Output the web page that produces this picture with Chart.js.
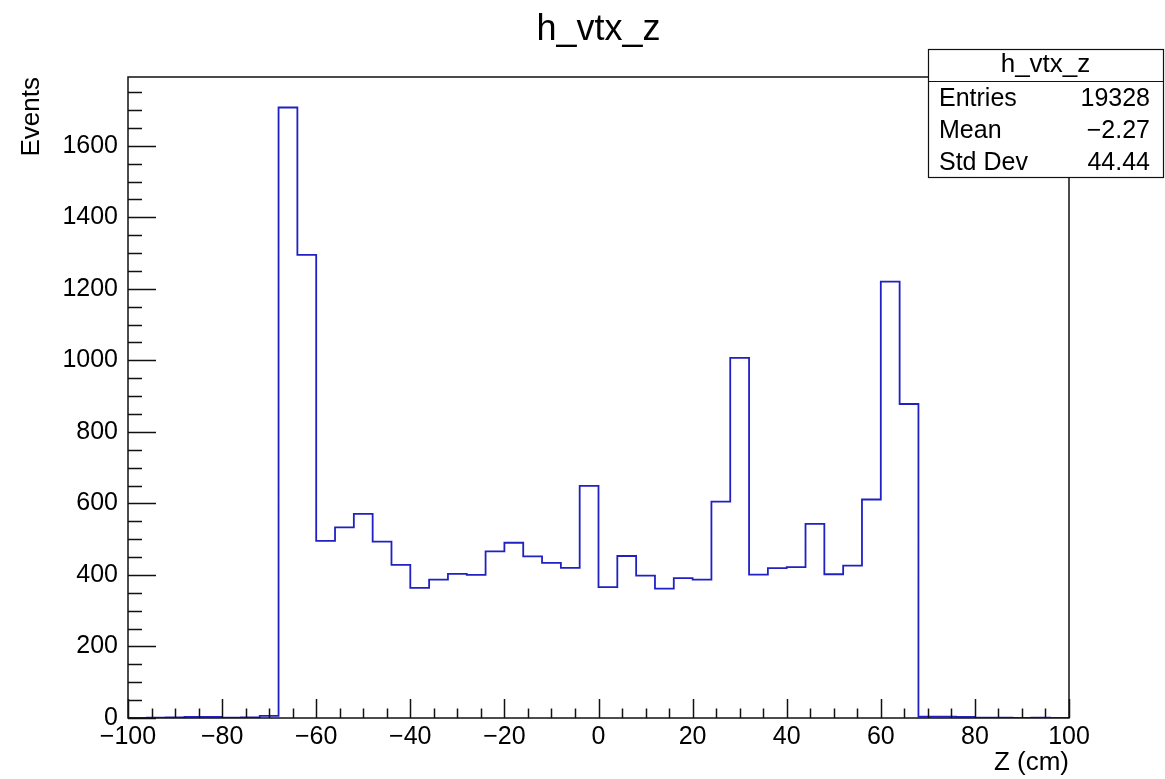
<!DOCTYPE html>
<html>
<head>
<meta charset="utf-8">
<title>h_vtx_z</title>
<script src="https://cdn.jsdelivr.net/npm/chart.js@4.4.1/dist/chart.umd.min.js"></script>
<style>
  html, body { margin: 0; padding: 0; background: #fff; }
  #wrap { width: 1165px; height: 779px; }
</style>
</head>
<body>
<div id="wrap"><canvas id="hist" width="1165" height="779"></canvas></div>
<script>
// histogram h_vtx_z : 50 bins from -100 to 100 cm
const binLowEdges = [
  -100, -96, -92, -88, -84, -80, -76, -72, -68, -64,
  -60, -56, -52, -48, -44, -40, -36, -32, -28, -24,
  -20, -16, -12, -8, -4, 0, 4, 8, 12, 16,
  20, 24, 28, 32, 36, 40, 44, 48, 52, 56,
  60, 64, 68, 72, 76, 80, 84, 88, 92, 96
];
const xUpEdge = 100;
const counts = [
  0, 1, 2, 3, 3, 1, 2, 6, 1707, 1295,
  495, 533, 571, 493, 428, 364, 387, 403, 400, 466,
  490, 452, 434, 420, 649, 366, 453, 398, 362, 391,
  387, 605, 1007, 401, 419, 422, 543, 402, 426, 611,
  1220, 878, 4, 4, 3, 1, 1, 0, 1, 0
];
const xTicks = [-100, -80, -60, -40, -20, 0, 20, 40, 60, 80, 100];
const yTicks = [0, 200, 400, 600, 800, 1000, 1200, 1400, 1600];
const statLabels = ['Entries', 'Mean', 'Std Dev'];
const statValues = ['19328', '\u22122.27', '44.44'];

const FONT = '"Liberation Sans", Arial, Helvetica, sans-serif';
const minus = v => String(v).replace('-', '\u2212');

// points at the low edges + closing point at the upper edge
const points = binLowEdges.map((x, i) => ({ x: x, y: counts[i] }));
points.push({ x: xUpEdge, y: counts[counts.length - 1] });

const yMax = Math.max(...counts) * 1.05;

// ROOT-like frame, inward ticks, title and stats box
const rootStyle = {
  id: 'rootStyle',
  afterDraw(chart) {
    const ctx = chart.ctx;
    const a = chart.chartArea;
    const xs = chart.scales.x, ys = chart.scales.y;
    ctx.save();
    ctx.strokeStyle = '#111';
    ctx.lineWidth = 1.5;

    // x ticks (every 5, major every 20)
    ctx.beginPath();
    for (let v = -100; v <= 100; v += 5) {
      const px = Math.round(xs.getPixelForValue(v)) + 0.5;
      const len = (v % 20 === 0) ? 19 : 9.5;
      ctx.moveTo(px, a.bottom);
      ctx.lineTo(px, a.bottom - len);
    }
    // y ticks (every 50, major every 200)
    for (let v = 0; v <= yMax; v += 50) {
      const py = Math.round(ys.getPixelForValue(v)) + 0.5;
      const len = (v % 200 === 0) ? 28 : 14;
      ctx.moveTo(a.left, py);
      ctx.lineTo(a.left + len, py);
    }
    ctx.stroke();

    // frame
    ctx.strokeRect(a.left, a.top, a.right - a.left, a.bottom - a.top);

    // main title
    ctx.fillStyle = '#000';
    ctx.font = '36px ' + FONT;
    ctx.textAlign = 'center';
    ctx.textBaseline = 'alphabetic';
    ctx.fillText('h_vtx_z', (a.left + a.right) / 2, 40);

    // stats box
    const bx = 928, by = 49, bw = 235, bh = 128;
    ctx.fillStyle = '#fff';
    ctx.fillRect(bx, by, bw, bh);
    ctx.lineWidth = 1.2;
    ctx.strokeStyle = '#111';
    ctx.strokeRect(bx + 0.5, by + 0.5, bw, bh);
    ctx.beginPath();
    ctx.moveTo(bx, 81.5);
    ctx.lineTo(bx + bw, 81.5);
    ctx.stroke();
    ctx.fillStyle = '#000';
    ctx.textBaseline = 'middle';
    ctx.textAlign = 'center';
    ctx.font = '26px ' + FONT;
    ctx.fillText('h_vtx_z', bx + bw / 2, 65);
    ctx.font = '25px ' + FONT;
    const rowY = [99, 131, 163];
    statLabels.forEach((lab, i) => {
      ctx.textAlign = 'left';
      ctx.fillText(lab, 939, rowY[i]);
      ctx.textAlign = 'right';
      ctx.fillText(statValues[i], 1150, rowY[i]);
    });
    ctx.restore();
  }
};

const chart = new Chart(document.getElementById('hist').getContext('2d'), {
  type: 'line',
  data: {
    datasets: [{
      label: 'h_vtx_z',
      data: points,
      stepped: 'before',
      borderColor: '#2020c4',
      borderWidth: 1.8,
      pointRadius: 0,
      fill: false
    }]
  },
  options: {
    responsive: false,
    animation: false,
    devicePixelRatio: 1,
    layout: { padding: { left: 0, right: 96, top: 77, bottom: 0 } },
    plugins: {
      legend: { display: false },
      title: { display: false },
      tooltip: { enabled: false }
    },
    scales: {
      x: {
        type: 'linear',
        min: -100,
        max: 100,
        grid: { display: false, drawTicks: false },
        border: { display: false },
        ticks: {
          padding: 4,
          maxRotation: 0,
          autoSkip: false,
          color: '#000',
          font: { family: FONT, size: 25 },
          callback: v => minus(v)
        },
        afterBuildTicks: s => { s.ticks = xTicks.map(v => ({ value: v })); },
        title: {
          display: true,
          text: 'Z (cm)',
          align: 'end',
          color: '#000',
          font: { family: FONT, size: 26 },
          padding: { top: 0, bottom: 1 }
        },
        afterFit: s => { s.height = 61; }
      },
      y: {
        type: 'linear',
        min: 0,
        max: yMax,
        grid: { display: false, drawTicks: false },
        border: { display: false },
        ticks: {
          padding: 10,
          autoSkip: false,
          color: '#000',
          font: { family: FONT, size: 25 },
          callback: v => minus(v)
        },
        afterBuildTicks: s => { s.ticks = yTicks.map(v => ({ value: v })); },
        title: {
          display: true,
          text: 'Events',
          align: 'end',
          color: '#000',
          font: { family: FONT, size: 26 },
          padding: { top: 16, bottom: 0 }
        },
        afterFit: s => { s.width = 128; }
      }
    }
  },
  plugins: [rootStyle]
});
</script>
</body>
</html>
